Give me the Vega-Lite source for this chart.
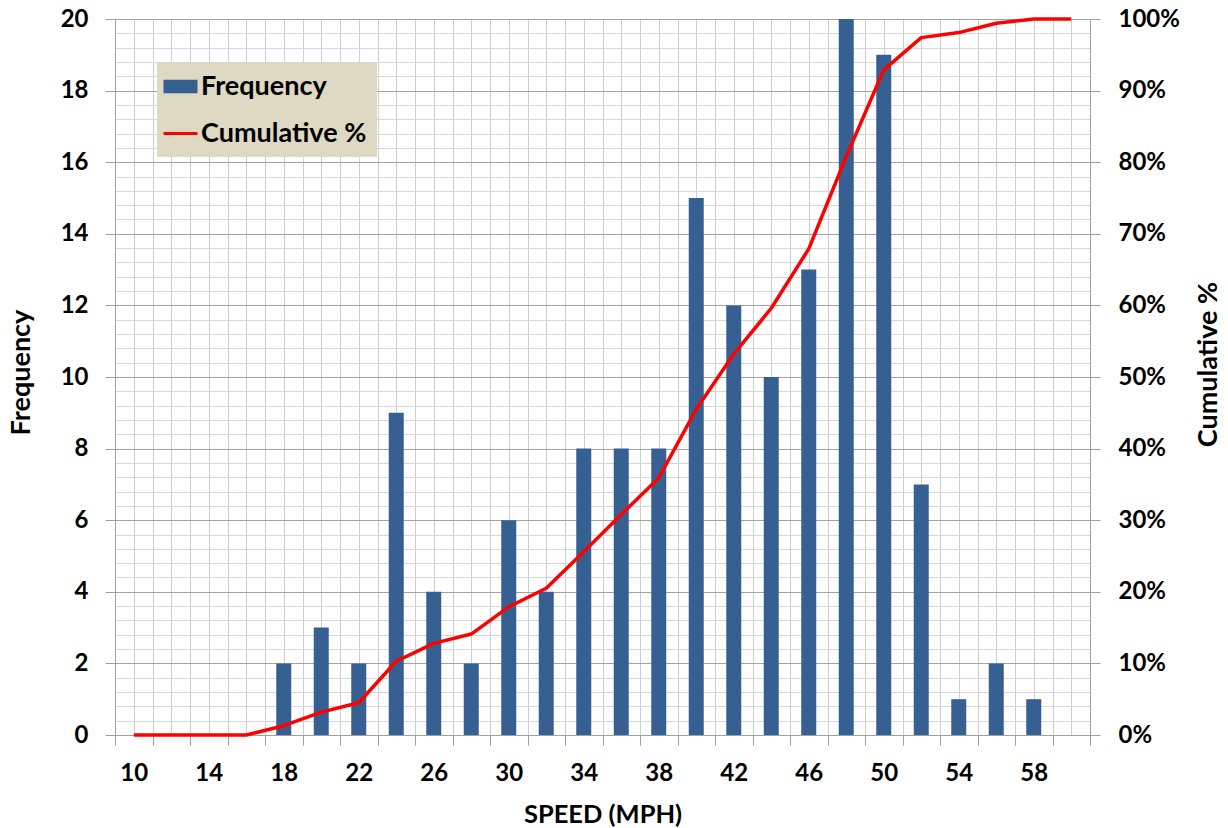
{
  "$schema": "https://vega.github.io/schema/vega-lite/v6.json",
  "width": 975,
  "height": 716,
  "autosize": {"type": "none"},
  "padding": {"left": 115, "top": 19, "right": 138, "bottom": 93},
  "background": "white",
  "config": {
    "view": {"stroke": null},
    "font": "Lato",
    "axis": {
      "labelFont": "Lato", "labelFontWeight": "bold", "labelFontSize": 24, "labelColor": "#000000",
      "titleFont": "Lato", "titleFontWeight": "bold", "titleFontSize": 27, "titleColor": "#000000",
      "domainColor": "#a0a0a0", "tickColor": "#a0a0a0", "tickSize": 10, "tickCount": 200
    }
  },
  "data": {
    "values": [
      {"speed": 10, "freq": 0, "cum": 0},
      {"speed": 12, "freq": 0, "cum": 0},
      {"speed": 14, "freq": 0, "cum": 0},
      {"speed": 16, "freq": 0, "cum": 0},
      {"speed": 18, "freq": 2, "cum": 0.013},
      {"speed": 20, "freq": 3, "cum": 0.032},
      {"speed": 22, "freq": 2, "cum": 0.045},
      {"speed": 24, "freq": 9, "cum": 0.103},
      {"speed": 26, "freq": 4, "cum": 0.128},
      {"speed": 28, "freq": 2, "cum": 0.141},
      {"speed": 30, "freq": 6, "cum": 0.179},
      {"speed": 32, "freq": 4, "cum": 0.205},
      {"speed": 34, "freq": 8, "cum": 0.256},
      {"speed": 36, "freq": 8, "cum": 0.308},
      {"speed": 38, "freq": 8, "cum": 0.359},
      {"speed": 40, "freq": 15, "cum": 0.455},
      {"speed": 42, "freq": 12, "cum": 0.532},
      {"speed": 44, "freq": 10, "cum": 0.596},
      {"speed": 46, "freq": 13, "cum": 0.679},
      {"speed": 48, "freq": 20, "cum": 0.808},
      {"speed": 50, "freq": 19, "cum": 0.929},
      {"speed": 52, "freq": 7, "cum": 0.974},
      {"speed": 54, "freq": 1, "cum": 0.981},
      {"speed": 56, "freq": 2, "cum": 0.994},
      {"speed": 58, "freq": 1, "cum": 1},
      {"speed": 60, "freq": 0, "cum": 1}
    ]
  },
  "layer": [
    {
      "mark": {"type": "bar", "size": 15},
      "encoding": {
        "x": {
          "field": "speed", "type": "quantitative",
          "scale": {"domain": [9, 61], "nice": false, "zero": false, "padding": 0},
          "axis": {
            "title": "SPEED (MPH)",
            "titleFontSize": 25.5,
            "titleX": 487.5, "titleY": 79, "titleAlign": "center", "titleBaseline": "middle",
            "values": [9,10,11,12,13,14,15,16,17,18,19,20,21,22,23,24,25,26,27,28,29,30,31,32,33,34,35,36,37,38,39,40,41,42,43,44,45,46,47,48,49,50,51,52,53,54,55,56,57,58,59,60,61],
            "tickCount": 200,
            "grid": true,
            "gridColor": "#cfcfcf",
            "tickOpacity": {"condition": {"test": "datum.value % 2 == 1", "value": 1}, "value": 0},
            "labelExpr": "(datum.value % 4 == 2 && datum.value >= 10 && datum.value <= 58) ? ('' + datum.value) : ''",
            "labelPadding": 16,
            "labelFlush": false,
            "labelOverlap": false
          }
        },
        "y": {
          "field": "freq", "type": "quantitative",
          "scale": {"domain": [0, 20], "nice": false},
          "axis": {
            "title": "Frequency",
            "titleX": -94, "titleY": 353, "titleAngle": -90, "titleAlign": "center", "titleBaseline": "middle",
            "values": [0,0.4,0.8,1.2,1.6,2,2.4,2.8,3.2,3.6,4,4.4,4.8,5.2,5.6,6,6.4,6.8,7.2,7.6,8,8.4,8.8,9.2,9.6,10,10.4,10.8,11.2,11.6,12,12.4,12.8,13.2,13.6,14,14.4,14.8,15.2,15.6,16,16.4,16.8,17.2,17.6,18,18.4,18.8,19.2,19.6,20],
            "tickCount": 200,
            "grid": true,
            "gridColor": {"condition": {"test": "datum.value % 2 == 0", "value": "#a3a3a3"}, "value": "#d6d6d6"},
            "tickOpacity": {"condition": {"test": "datum.value % 2 == 0", "value": 1}, "value": 0},
            "labelExpr": "datum.value % 2 == 0 ? ('' + datum.value) : ''",
            "labelPadding": 17,
            "labelFlush": false,
            "labelOverlap": false
          }
        },
        "color": {
          "datum": "Frequency", "type": "nominal",
          "scale": {"domain": ["Frequency", "Cumulative %"], "range": ["#376092", "#ff0000"]},
          "legend": {
            "title": null,
            "orient": "none",
            "legendX": 42,
            "legendY": 44,
            "fillColor": "#ddd9c3",
            "padding": 10,
            "labelFont": "Lato",
            "labelFontWeight": "bold",
            "labelFontSize": 27,
            "labelColor": "#000000",
            "labelLimit": 400,
            "labelOffset": 7,
            "rowPadding": 19,
            "symbolSize": 1156,
            "encode": {
              "symbols": {
                "update": {
                  "shape": {"signal": "datum.value === 'Frequency' ? 'M-1,-0.4H1V0.4H-1Z' : 'M-1,0H1'"},
                  "fill": {"signal": "datum.value === 'Frequency' ? '#376092' : 'transparent'"},
                  "stroke": {"signal": "datum.value === 'Frequency' ? '#376092' : '#ff0000'"},
                  "strokeWidth": {"signal": "datum.value === 'Frequency' ? 0 : 3"},
                  "opacity": {"value": 1}
                }
              }
            }
          }
        }
      }
    },
    {
      "mark": {"type": "line", "interpolate": "linear", "strokeWidth": 3.5, "strokeJoin": "round"},
      "encoding": {
        "x": {"field": "speed", "type": "quantitative"},
        "y": {
          "field": "cum", "type": "quantitative",
          "scale": {"domain": [0, 1], "nice": false},
          "axis": {
            "orient": "right",
            "title": "Cumulative %",
            "titleX": 118, "titleY": 345, "titleAngle": -90, "titleAlign": "center", "titleBaseline": "middle",
            "values": [0,0.1,0.2,0.3,0.4,0.5,0.6,0.7,0.8,0.9,1],
            "tickCount": 200,
            "format": ".0%",
            "grid": false,
            "labelPadding": 18,
            "labelFlush": false,
            "labelOverlap": false
          }
        },
        "color": {"datum": "Cumulative %", "type": "nominal"}
      }
    }
  ],
  "resolve": {"scale": {"y": "independent"}}
}
